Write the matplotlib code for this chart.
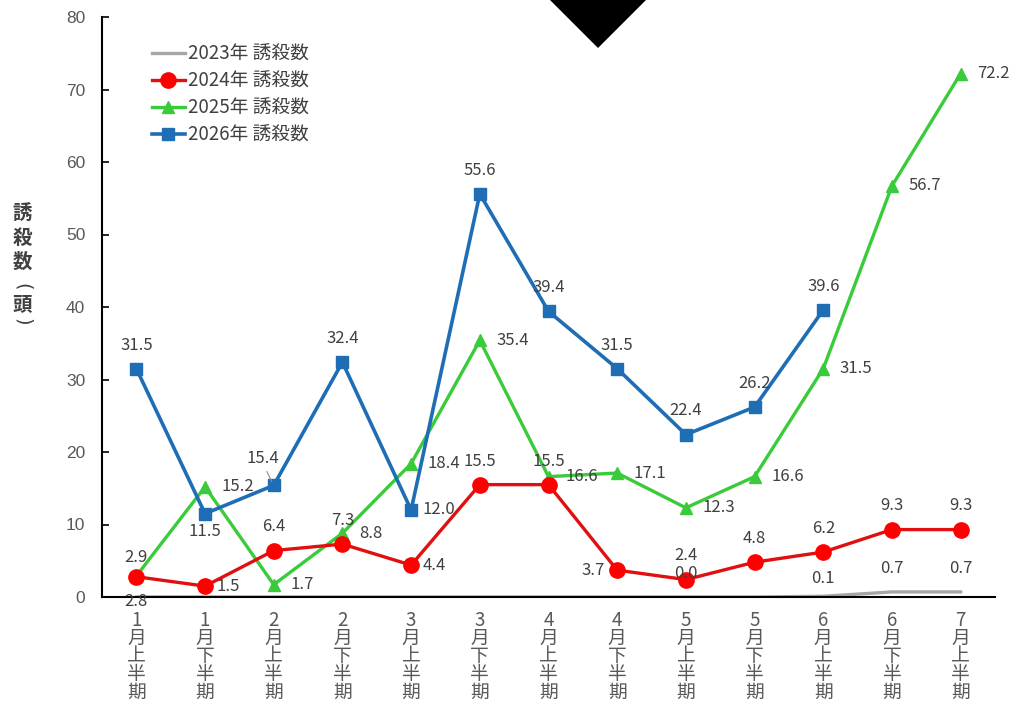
import matplotlib
matplotlib.use("Agg")
import matplotlib.pyplot as plt
from matplotlib.patches import Polygon

plt.rcParams['font.family'] = ['Noto Sans CJK JP', 'DejaVu Sans']

periods = ['1月上半期', '1月下半期', '2月上半期', '2月下半期', '3月上半期', '3月下半期',
           '4月上半期', '4月下半期', '5月上半期', '5月下半期', '6月上半期', '6月下半期',
           '7月上半期']

y2023 = [0.0, 0.0, 0.0, 0.0, 0.0, 0.0, 0.0, 0.0, 0.0, 0.0, 0.1, 0.7, 0.7]
y2024 = [2.8, 1.5, 6.4, 7.3, 4.4, 15.5, 15.5, 3.7, 2.4, 4.8, 6.2, 9.3, 9.3]
y2025 = [2.9, 15.2, 1.7, 8.8, 18.4, 35.4, 16.6, 17.1, 12.3, 16.6, 31.5, 56.7, 72.2]
y2026 = [31.5, 11.5, 15.4, 32.4, 12.0, 55.6, 39.4, 31.5, 22.4, 26.2, 39.6]

# label placement codes per point (None = no label)
pos2023 = [None, None, None, None, None, None, None, None, 'a', None, 'as', 'a', 'a']
pos2024 = ['bb', 'rn', 'a', 'a', 'rn', 'a', 'a', 'l', 'a', 'a', 'a', 'a', 'a']
pos2025 = ['as', 'r', 'r', 'r', 'r', 'r', 'r', 'r', 'r', 'r', 'r', 'r', 'r']
pos2026 = ['a', 'b', 'al', 'a', 'rn', 'a', 'a', 'a', 'a', 'a', 'a']

fig = plt.figure(figsize=(10.12, 7.05), dpi=100)
ax = fig.add_axes([102 / 1012, 1 - 597 / 705, 893 / 1012, 580 / 705])

x = range(len(periods))
ax.plot(x, y2023, color='#A6A6A6', lw=2.4, label='2023年 誘殺数', zorder=2)
ax.plot(x, y2025, color='#3ACB3A', lw=2.4, marker='^', ms=8, label='2025年 誘殺数', zorder=3)
ax.plot(range(len(y2026)), y2026, color='#1F6EB5', lw=2.6, marker='s', ms=8,
        label='2026年 誘殺数', zorder=4)
ax.plot(x, y2024, color='#E01010', lw=2.4, marker='o', ms=11, mfc='#FF0000', mec='#FF0000',
        label='2024年 誘殺数', zorder=5)

offsets = {
    'a': ((0, 17), 'center'),
    'as': ((0, 13), 'center'),
    'b': ((0, -13), 'center'),
    'bb': ((0, -18), 'center'),
    'r': ((12, 0), 'left'),
    'rn': ((8, 0), 'left'),
    'l': ((-9, 0), 'right'),
    'al': ((-8, 19.5), 'center'),
}


def put_labels(vals, places):
    for i, (v, p) in enumerate(zip(vals, places)):
        if p is None:
            continue
        off, ha = offsets[p]
        ax.annotate(f'{v:.1f}', xy=(i, v), xytext=off, textcoords='offset points',
                    ha=ha, va='center', fontsize=12, color='#404040', zorder=6)
        if p == 'al':
            ax.annotate('', xy=(i, v), xytext=(-5, 10), textcoords='offset points',
                        arrowprops=dict(arrowstyle='-', color='#909090', lw=0.8,
                                        shrinkA=0, shrinkB=3), zorder=6)


put_labels(y2023, pos2023)
put_labels(y2024, pos2024)
put_labels(y2025, pos2025)
put_labels(y2026, pos2026)

ax.set_xlim(-0.5, len(periods) - 0.5)
ax.set_ylim(0, 80)
ax.set_yticks(range(0, 81, 10))
ax.set_xticks(list(x))
ax.set_xticklabels(['\n'.join(p) for p in periods], linespacing=0.82)
ax.tick_params(axis='y', direction='in', length=5, width=1.2, pad=12,
               labelsize=12.5, labelcolor='#595959')
ax.tick_params(axis='x', length=0, pad=9, labelsize=13.5, labelcolor='#595959')
for lab in ax.get_yticklabels():
    lab.set_family('Liberation Sans')

ax.spines[['top', 'right']].set_visible(False)
ax.spines['left'].set_linewidth(1.5)
ax.spines['bottom'].set_linewidth(1.5)

h, l = ax.get_legend_handles_labels()
order = [0, 3, 1, 2]
leg = ax.legend([h[i] for i in order], [l[i] for i in order], loc='upper left',
                bbox_to_anchor=(0.045, 0.97), frameon=False, fontsize=13.5,
                handlelength=1.8, handletextpad=0.15, labelspacing=0.32, borderpad=0)
for t in leg.get_texts():
    t.set_color('#404040')

# vertical y-axis title, one glyph per line; brackets turned for vertical writing
ylab_chars = ['誘', '殺', '数', '(', '頭', ')']
ylab_y = [213, 238, 262, 287, 305, 322]
for ch, yy in zip(ylab_chars, ylab_y):
    if ch in '()':
        fig.text(22 / 1012, 1 - yy / 705, ch, ha='center', va='center', fontsize=14,
                 color='#404040', rotation=-90, family='DejaVu Sans')
    else:
        fig.text(22 / 1012, 1 - yy / 705, ch, ha='center', va='center', fontsize=14,
                 fontweight='bold', color='#404040')

fig.patches.append(Polygon([(550 / 1012, 1), (646 / 1012, 1), (598 / 1012, 1 - 48 / 705)],
                           closed=True, transform=fig.transFigure, facecolor='black',
                           edgecolor='none', zorder=10))

fig.savefig('out.png', dpi=100)
